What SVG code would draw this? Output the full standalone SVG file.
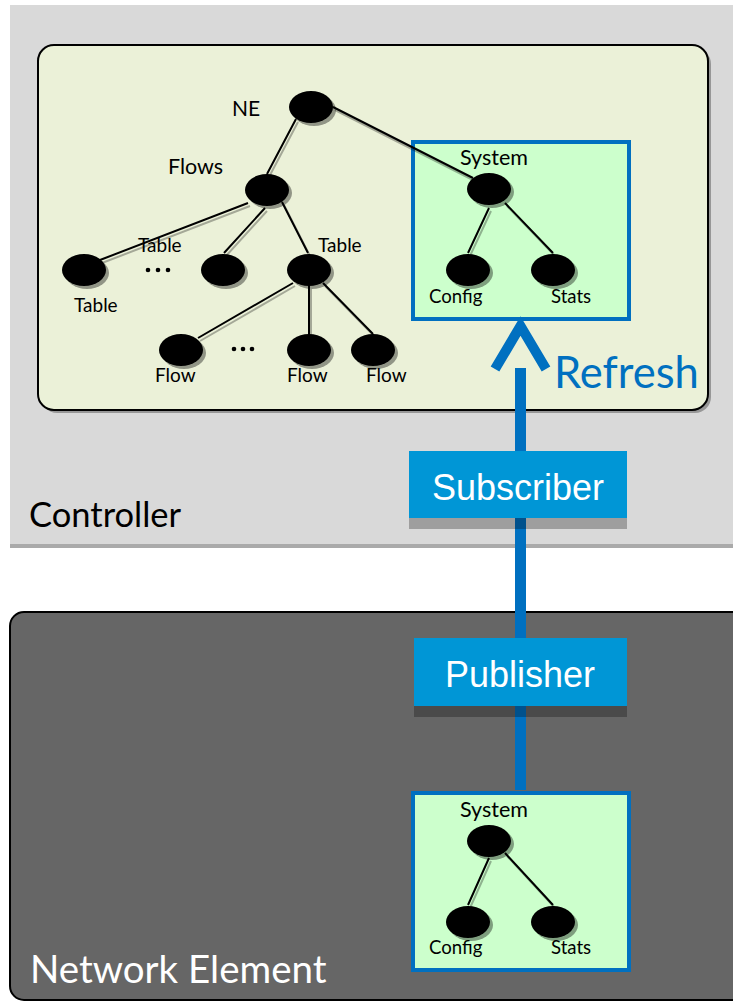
<svg xmlns="http://www.w3.org/2000/svg" width="733" height="1002" viewBox="0 0 733 1002">
<style>
.n{fill:#000}
.ns{fill:#000;opacity:0.38}
.e{stroke:#000;stroke-width:2;fill:none}
.es{stroke:#000;stroke-width:2;fill:none;opacity:0.3}
.t{font-family:Lato,"Liberation Sans",sans-serif;fill:#000}
.tb{font-family:"Liberation Sans",Arial,sans-serif;fill:#fff;font-size:36px;text-anchor:middle}
.sys{fill:#ccffcc;stroke:#0070c0;stroke-width:4}
.dots{fill:#000}
</style>
<rect width="733" height="1002" fill="#fff"/>
<g id="controller">
<rect x="10" y="5" width="723" height="539" fill="#d9d9d9"/>
<rect x="10" y="544" width="723" height="4" fill="#aaaaaa"/>
<rect x="41" y="48" width="670" height="365" rx="16" fill="#000" opacity="0.3"/>
<rect x="38" y="45" width="670" height="365" rx="16" fill="#ebf1d8" stroke="#000" stroke-width="2"/>
<text class="t" x="29" y="527" font-size="34.5">Controller</text>
</g>
<g id="network-element">
<rect x="10" y="612" width="740" height="388" rx="14" fill="#666666" stroke="#000" stroke-width="2"/>
<text class="t" x="30" y="983" font-size="38.5" style="fill:#fff">Network Element</text>
</g>
<g id="sys-box-top"><rect class="sys" x="413" y="142" width="216" height="177"/></g>
<g id="sys-box-bottom"><rect class="sys" x="413" y="793" width="216" height="177"/></g>
<g id="connectors">
<g transform="translate(2,3)">
<path class="es" d="M296 119L267 174M333 107L473 178M248 203L100 260M265 208L224 253M282 202L308 253M293 283L198 338M309 286L309 334M323 283L373 334M489 208L468 253M505 203L553 253M489 858L468 905M505 853L553 905"/>
</g>
<path class="e" d="M296 119L267 174M333 107L473 178M248 203L100 260M265 208L224 253M282 202L308 253M293 283L198 338M309 286L309 334M323 283L373 334M489 208L468 253M505 203L553 253M489 858L468 905M505 853L553 905"/>
<line x1="520.5" y1="368" x2="520.5" y2="790" stroke="#0070c0" stroke-width="11"/>
<path d="M495 369L520.5 326L546 369" fill="none" stroke="#0070c0" stroke-width="10"/>
</g>
<g id="nodes-shadow">
<ellipse class="ns" cx="314" cy="110" rx="22" ry="16"/>
<ellipse class="ns" cx="270" cy="193" rx="22" ry="16"/>
<ellipse class="ns" cx="87" cy="273" rx="22" ry="16"/>
<ellipse class="ns" cx="226" cy="273" rx="22" ry="16"/>
<ellipse class="ns" cx="312" cy="273" rx="22" ry="16"/>
<ellipse class="ns" cx="184" cy="353" rx="22" ry="16"/>
<ellipse class="ns" cx="312" cy="353" rx="22" ry="16"/>
<ellipse class="ns" cx="376" cy="353" rx="22" ry="16"/>
<ellipse class="ns" cx="492" cy="192" rx="22" ry="16"/>
<ellipse class="ns" cx="471" cy="273" rx="22" ry="16"/>
<ellipse class="ns" cx="556" cy="273" rx="22" ry="16"/>
<ellipse class="ns" cx="492" cy="844" rx="22" ry="16"/>
<ellipse class="ns" cx="471" cy="925" rx="22" ry="16"/>
<ellipse class="ns" cx="556" cy="925" rx="22" ry="16"/>
</g>
<g id="node-ne"><ellipse class="n" cx="311" cy="107" rx="22" ry="16"/><text class="t" x="232" y="116" font-size="21">NE</text></g>
<g id="node-flows"><ellipse class="n" cx="267" cy="190" rx="22" ry="16"/><text class="t" x="168" y="174" font-size="21.5">Flows</text></g>
<g id="node-table-left"><ellipse class="n" cx="84" cy="270" rx="22" ry="16"/><text class="t" x="74" y="312" font-size="19">Table</text></g>
<g id="node-table-mid"><ellipse class="n" cx="223" cy="270" rx="22" ry="16"/><text class="t" x="138" y="252" font-size="19">Table</text></g>
<g id="node-table-right"><ellipse class="n" cx="309" cy="270" rx="22" ry="16"/><text class="t" x="318" y="252" font-size="19">Table</text></g>
<g id="node-flow1"><ellipse class="n" cx="181" cy="350" rx="22" ry="16"/><text class="t" x="155" y="382" font-size="19">Flow</text></g>
<g id="node-flow2"><ellipse class="n" cx="309" cy="350" rx="22" ry="16"/><text class="t" x="287" y="382" font-size="19">Flow</text></g>
<g id="node-flow3"><ellipse class="n" cx="373" cy="350" rx="22" ry="16"/><text class="t" x="366" y="382" font-size="19">Flow</text></g>
<g id="dots">
<circle class="dots" cx="148" cy="270" r="2.3"/><circle class="dots" cx="158" cy="270" r="2.3"/><circle class="dots" cx="168" cy="270" r="2.3"/>
<circle class="dots" cx="234" cy="349" r="2.3"/><circle class="dots" cx="243" cy="349" r="2.3"/><circle class="dots" cx="252" cy="349" r="2.3"/>
</g>
<g id="node-system-top"><ellipse class="n" cx="489" cy="189" rx="22" ry="16"/><text class="t" x="494" y="165" font-size="21.5" text-anchor="middle">System</text></g>
<g id="node-config-top"><ellipse class="n" cx="468" cy="270" rx="22" ry="16"/><text class="t" x="429" y="303" font-size="18.6">Config</text></g>
<g id="node-stats-top"><ellipse class="n" cx="553" cy="270" rx="22" ry="16"/><text class="t" x="551" y="303" font-size="18.6">Stats</text></g>
<g id="node-system-bottom"><ellipse class="n" cx="489" cy="841" rx="22" ry="16"/><text class="t" x="494" y="817" font-size="21.5" text-anchor="middle">System</text></g>
<g id="node-config-bottom"><ellipse class="n" cx="468" cy="922" rx="22" ry="16"/><text class="t" x="429" y="954" font-size="18.6">Config</text></g>
<g id="node-stats-bottom"><ellipse class="n" cx="553" cy="922" rx="22" ry="16"/><text class="t" x="551" y="954" font-size="18.6">Stats</text></g>
<g id="refresh-label"><text x="554" y="388" font-family="Lato,'Liberation Sans',sans-serif" font-size="43.5" fill="#0070c0">Refresh</text></g>
<g id="subscriber">
<rect x="409" y="518" width="218" height="11" fill="#000" opacity="0.27"/>
<rect x="409" y="451" width="218" height="67" fill="#0096d6"/>
<text class="tb" x="518" y="500">Subscriber</text>
</g>
<g id="publisher">
<rect x="414" y="706" width="213" height="11" fill="#000" opacity="0.27"/>
<rect x="414" y="638" width="213" height="68" fill="#0096d6"/>
<text class="tb" x="520" y="687">Publisher</text>
</g>
</svg>
